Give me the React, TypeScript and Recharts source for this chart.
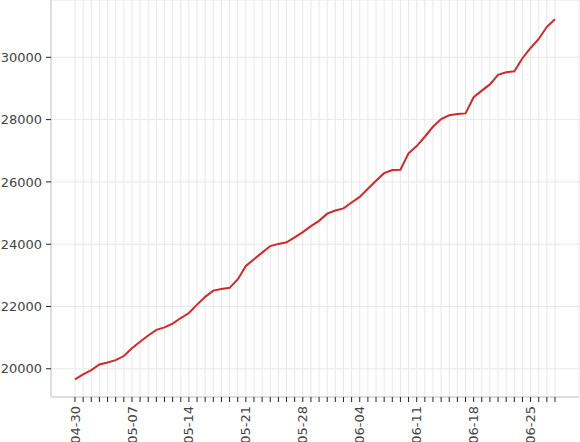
import { CartesianGrid, Line, LineChart, XAxis, YAxis } from "recharts";

const dates = [
  "04-30",
  "05-01", "05-02", "05-03", "05-04", "05-05", "05-06", "05-07", "05-08", "05-09", "05-10",
  "05-11", "05-12", "05-13", "05-14", "05-15", "05-16", "05-17", "05-18", "05-19", "05-20",
  "05-21", "05-22", "05-23", "05-24", "05-25", "05-26", "05-27", "05-28", "05-29", "05-30",
  "05-31",
  "06-01", "06-02", "06-03", "06-04", "06-05", "06-06", "06-07", "06-08", "06-09", "06-10",
  "06-11", "06-12", "06-13", "06-14", "06-15", "06-16", "06-17", "06-18", "06-19", "06-20",
  "06-21", "06-22", "06-23", "06-24", "06-25", "06-26", "06-27", "06-28",
];

const totals = [
  19660, 19820, 19960, 20140, 20200, 20280, 20410, 20660, 20870, 21070,
  21250, 21330, 21450, 21630, 21790, 22060, 22310, 22510, 22560, 22600,
  22870, 23300, 23520, 23730, 23940, 24010, 24060, 24220, 24390, 24580,
  24750, 24980, 25080, 25150, 25340, 25520, 25780, 26040, 26280, 26380,
  26390, 26920, 27150, 27450, 27770, 28020, 28140, 28180, 28200, 28720,
  28930, 29130, 29440, 29520, 29550, 29970, 30300, 30590, 30980, 31220,
];

const yTicks = [20000, 22000, 24000, 26000, 28000, 30000];

const data = dates.map((date, i) => ({ date, total: totals[i] }));

function DateTick(props: any) {
  const { x, y, payload, index } = props;
  if (index % 7 !== 0) return null;
  return (
    <g transform={`translate(${x},${y})`}>
      <text
        transform="rotate(-90)"
        textAnchor="end"
        dy="0.35em"
        fill="#444"
        fontSize={13}
        fontFamily="DejaVu Sans"
      >
        {payload.value}
      </text>
    </g>
  );
}

export default function App() {
  return (
    <div style={{ position: "absolute", left: 0, top: 0, width: 580, height: 442 }}>
      <LineChart
        width={580}
        height={442}
        data={data}
        margin={{ top: 0, right: 1, bottom: 0, left: 0 }}
      >
        <CartesianGrid stroke="#e8e8e8" strokeWidth={1} />
        <XAxis
          dataKey="date"
          interval={0}
          height={45}
          padding={{ left: 24, right: 24 }}
          tick={<DateTick />}
          tickSize={5}
          tickMargin={4}
          axisLine={{ stroke: "#c8c8c8" }}
          tickLine={{ stroke: "#222" }}
        />
        <YAxis
          type="number"
          width={51}
          domain={[19095, 31840]}
          ticks={yTicks}
          allowDataOverflow
          tickSize={5}
          tickMargin={4}
          axisLine={{ stroke: "#c8c8c8" }}
          tickLine={{ stroke: "#222" }}
          tick={{ fill: "#444", fontSize: 13, fontFamily: "DejaVu Sans" }}
        />
        <Line
          type="linear"
          dataKey="total"
          stroke="#d62728"
          strokeWidth={2}
          dot={false}
          isAnimationActive={false}
        />
      </LineChart>
    </div>
  );
}
